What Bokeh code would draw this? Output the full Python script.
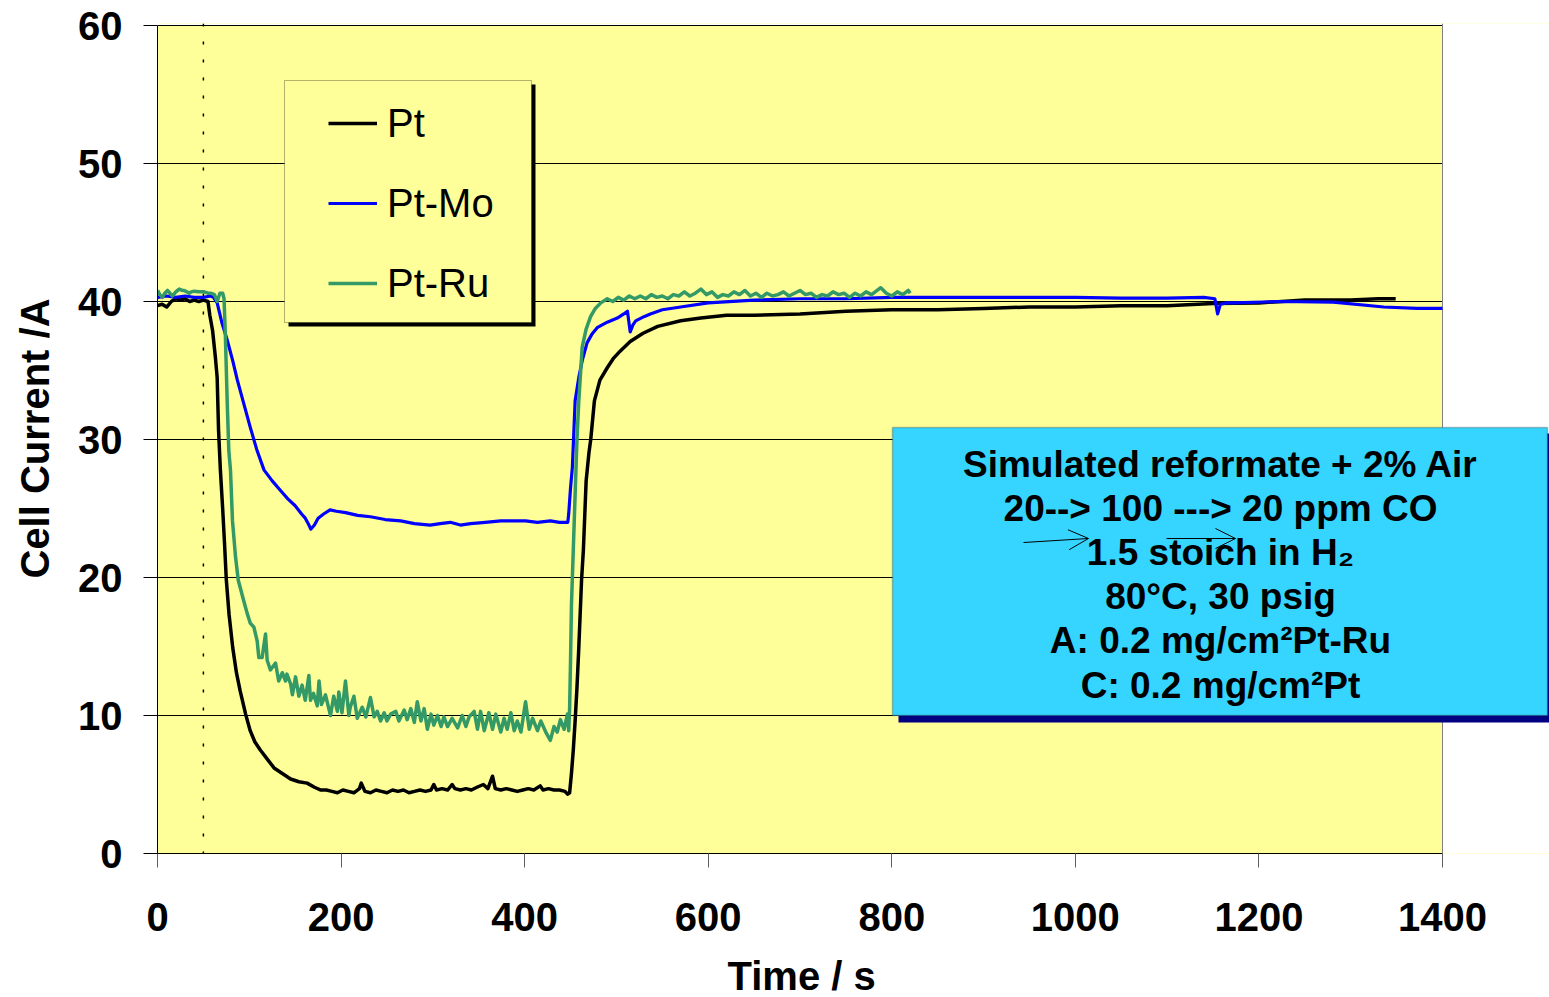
from bokeh.plotting import figure
from bokeh.models import (Range1d, SingleIntervalTicker, Legend, LegendItem, BoxAnnotation,
                          Label, Span, Arrow, OpenHead, Title)
from bokeh.embed import file_html
from bokeh.resources import INLINE

# ---------------- data ----------------
pt_t = [0, 5, 10, 15, 20, 25, 30, 35, 40, 45, 50, 55, 57, 60, 63, 65, 66.5, 68.5, 71, 73, 75,
        78, 82, 86, 90, 96, 101, 106, 112, 120, 127, 136, 145, 154, 163, 171, 178,
        184, 190, 196, 202, 208, 214, 220, 222, 226, 232, 238, 244, 250, 256, 262, 268, 274,
        280, 286, 292, 298, 301, 304, 310, 316, 321, 324, 330, 336, 342, 348, 355, 360, 365,
        368, 374, 380, 386, 392, 398, 404, 410, 417, 420, 426, 432, 438, 444, 447,
        449, 451, 453, 455, 457, 459, 462, 464, 467, 470, 472, 476, 482, 490, 497, 504, 515,
        529, 545, 570, 592, 620, 650, 700, 750, 800, 850, 900, 950, 1000, 1050, 1100, 1150,
        1200, 1250, 1300, 1330, 1349]
pt_i = [39.7, 39.8, 39.6, 40.0, 40.2, 40.1, 40.2, 40.0, 40.1, 40.0, 40.1, 40.0, 39.0, 37.9, 36.0,
        34.5, 30.7, 27.8, 25.0, 22.5, 19.8, 17.3, 14.9, 13.1, 11.8, 10.1, 8.9, 8.1, 7.5, 6.8,
        6.2, 5.8, 5.4, 5.2, 5.1, 4.8, 4.6,
        4.6, 4.5, 4.4, 4.6, 4.5, 4.4, 4.7, 5.1, 4.5, 4.4, 4.6, 4.5, 4.4, 4.6, 4.5, 4.6, 4.4,
        4.5, 4.6, 4.5, 4.6, 5.0, 4.6, 4.7, 4.6, 5.0, 4.7, 4.6, 4.7, 4.6, 4.8, 5.0, 4.7, 5.6,
        4.7, 4.6, 4.7, 4.6, 4.5, 4.6, 4.7, 4.6, 4.9, 4.6, 4.7, 4.6, 4.6, 4.5, 4.3,
        4.4, 5.8, 7.5, 9.6, 12.0, 14.9, 19.8, 22.0, 27.0, 29.0, 30.0, 32.8, 34.3, 35.2, 35.9,
        36.4, 37.1, 37.7, 38.2, 38.6, 38.8, 39.0, 39.0, 39.1, 39.3, 39.4, 39.4, 39.5, 39.6,
        39.6, 39.7, 39.7, 39.85, 39.9, 40.1, 40.1, 40.2, 40.2]

ptmo_t = [0, 10, 20, 30, 40, 50, 58, 61, 65, 70, 76, 82, 87, 94, 101, 108, 116, 125, 134, 142,
          150, 157, 161, 165, 167, 171, 175, 181, 188, 195, 205, 218, 232, 248, 265, 280, 297,
          308, 319, 330, 341, 357, 374, 387, 401, 414, 428, 438, 447,
          448, 450, 452, 453.5, 455, 459, 463, 468, 473, 479, 490, 501, 508, 512, 515, 518, 521,
          530, 537, 550, 570, 600, 650, 700, 750, 800, 850, 900, 950, 1000, 1050, 1100, 1140,
          1152, 1155, 1158, 1165, 1173, 1223, 1281, 1336, 1372, 1400]
ptmo_i = [40.3, 40.4, 40.3, 40.4, 40.3, 40.3, 40.4, 40.3, 39.9, 38.5, 37.2, 35.7, 34.3, 32.6,
          30.9, 29.3, 27.8, 27.0, 26.3, 25.7, 25.2, 24.6, 24.3, 23.8, 23.5, 23.8, 24.3, 24.6,
          24.9, 24.8, 24.7, 24.5, 24.4, 24.2, 24.1, 23.9, 23.8, 23.9, 24.0, 23.8, 23.9, 24.0,
          24.1, 24.1, 24.1, 24.0, 24.1, 24.0, 24.0,
          24.6, 26.5, 28.0, 30.4, 32.8, 34.5, 35.8, 37.0, 37.6, 38.1, 38.5, 38.8, 39.1, 39.3,
          37.8, 38.3, 38.6, 38.9, 39.1, 39.4, 39.6, 39.9, 40.1, 40.2, 40.2, 40.3, 40.3, 40.3,
          40.3, 40.3, 40.25, 40.25, 40.3, 40.2, 39.1, 39.8, 39.9, 39.9, 40.0, 39.95, 39.6,
          39.5, 39.5]

ptru_t = [0, 2.5, 5.4, 8, 10.9, 13.5, 16.3, 20, 23.6, 27, 29, 32, 34.5, 37, 40, 45, 50.8, 55,
          58, 62, 65, 68, 71, 72.5, 74, 76, 77.7, 79.5, 81.7, 85, 88, 94, 97.7, 101, 105,
          108.6, 110.4, 114, 117.7, 119.5, 123, 128.6, 132, 136, 139.5, 141, 145, 147, 150.4,
          154, 157.5, 161, 164.9, 166.7, 170, 174, 176, 178.6, 183, 188.5, 192, 196, 197.5, 201,
          204.8, 208.5, 210, 214, 217.6, 223, 227, 232, 236, 239.4, 243, 247, 250, 254, 259.6,
          263, 268.8, 272, 276, 279.8, 283, 287, 290.5, 294, 298, 301, 305, 309, 312, 316, 321,
          327, 332, 336, 339.5, 345, 348.6, 352, 356, 361, 365, 368.6, 374, 377.6, 381, 385,
          388.6, 392, 396, 401, 405, 408.6, 414, 417.6, 423, 428, 432, 435.5, 439, 443, 446.6,
          448, 449, 450, 451, 452, 453, 455, 457, 459, 462.7, 467, 471.8, 477, 483,
          490, 496, 502, 508, 514, 520, 526, 532, 538, 544, 550, 556, 562, 568, 574, 580, 586,
          592, 598, 604, 610, 616, 622, 628, 634, 640, 646, 652, 658, 664, 670, 676, 682, 688,
          694, 700, 706, 712, 718, 724, 730, 736, 742, 748, 754, 760, 766, 772, 778, 784, 788,
          794, 800, 806, 812, 818, 820]
ptru_i = [40.8, 40.5, 40.3, 40.6, 40.8, 40.6, 40.4, 40.7, 40.9, 40.8, 40.8, 40.7, 40.6, 40.7,
          40.75, 40.7, 40.7, 40.6, 40.6, 40.5, 40.0, 40.6, 40.6, 40.2, 37.4, 32.6, 29.2, 27.8,
          24.1, 21.5, 19.8, 18.3, 17.4, 16.7, 16.4, 15.4, 14.2, 14.2, 15.9, 14.0, 13.3, 13.8,
          12.5, 13.1, 12.5, 13.0, 12.3, 11.5, 12.8, 11.4, 12.2, 11.1, 12.9, 11.1, 11.6, 10.7,
          12.5, 10.8, 11.5, 10.0, 11.4, 10.3, 11.7, 10.2, 12.5, 10.0, 10.6, 11.4, 9.8, 10.6,
          9.9, 11.3, 9.9, 10.3, 9.6, 10.2, 9.6, 10.1, 10.3, 9.6, 10.4, 9.7, 10.5, 9.5, 11.0,
          9.6, 10.5, 9.0, 10.1, 9.3, 10.0, 9.2, 9.9, 9.2, 9.8, 9.1, 10.0, 9.2, 9.9, 10.3, 9.0,
          10.3, 8.9, 10.2, 9.0, 10.1, 8.8, 9.8, 9.0, 10.2, 8.9, 9.6, 8.8, 11.0, 9.0, 9.8, 8.9,
          9.6, 8.8, 8.2, 9.2, 8.8, 9.7, 9.0, 10.1,
          8.9, 10.5, 14.0, 18.0, 20.0, 22.0, 26.0, 30.0, 32.8, 36.7, 38.0, 38.9, 39.5, 39.9,
          40.2, 40.0, 40.3, 40.1, 40.4, 40.2, 40.4, 40.2, 40.5, 40.3, 40.4, 40.2, 40.5, 40.4,
          40.7, 40.4, 40.6, 40.9, 40.5, 40.7, 40.3, 40.5, 40.4, 40.7, 40.5, 40.8, 40.4, 40.6,
          40.3, 40.6, 40.4, 40.5, 40.7, 40.4, 40.6, 40.8, 40.5, 40.6, 40.3, 40.5, 40.4, 40.7,
          40.5, 40.6, 40.3, 40.6, 40.4, 40.7, 40.5, 40.8, 41.0, 40.6, 40.4, 40.7, 40.5, 40.8,
          40.6]

series_names = ["Pt", "Pt-Mo", "Pt-Ru"]
series_colors = ["#000000", "#0000FF", "#339966"]

co_switch_time = 50
x_max, y_max = 1400, 60

note_lines = ["Simulated reformate + 2% Air",
              "20--> 100 ---> 20 ppm CO",
              "1.5 stoich in H\u2082",
              "80\u00b0C, 30 psig",
              "A: 0.2 mg/cm\u00b2Pt-Ru",
              "C: 0.2 mg/cm\u00b2Pt"]

x_title = "Time / s"
y_title = "Cell Current /A"

# ---------------- layout constants ----------------
FONT = "Liberation Sans"
W, H = 1549, 997
FRAME_L, FRAME_R, FRAME_T, FRAME_B = 157, 1442, 25, 853   # plot-area pixels
TOP_PAD = 2


def dx(px):
    return (px - FRAME_L) * x_max / (FRAME_R - FRAME_L)


def dy(py):
    return (FRAME_B - py) * y_max / (FRAME_B - FRAME_T)


p = figure(width=W, height=H, x_range=Range1d(0, dx(W)),
           y_range=Range1d(0, dy(FRAME_T - TOP_PAD)),
           output_backend="svg", toolbar_location=None,
           min_border_left=FRAME_L, min_border_right=0, min_border_top=FRAME_T - TOP_PAD,
           min_border_bottom=H - FRAME_B,
           background_fill_color="#FFFF99", border_fill_color="white",
           outline_line_color=None)

p.xgrid.visible = False
p.ygrid.grid_line_color = "black"
p.ygrid.grid_line_width = 1
p.yaxis.ticker = SingleIntervalTicker(interval=10)
p.xaxis.ticker = SingleIntervalTicker(interval=200)
p.ygrid.ticker = SingleIntervalTicker(interval=10)
p.xaxis.bounds = (0, x_max)
p.yaxis.bounds = (0, y_max)

for ax in (p.xaxis[0], p.yaxis[0]):
    ax.axis_line_color = "black"
    ax.axis_line_width = 1
    ax.major_tick_in = 0
    ax.major_tick_out = 14
    ax.minor_tick_line_color = None
    ax.major_label_text_font = FONT
    ax.major_label_text_font_size = "40px"
    ax.major_label_text_font_style = "bold"
    ax.major_label_text_color = "black"
    ax.axis_label_text_font = FONT
    ax.axis_label_text_font_size = "40px"
    ax.axis_label_text_font_style = "bold"
    ax.axis_label_text_color = "black"

p.xaxis.major_tick_line_color = "#606060"
p.yaxis.major_tick_line_color = "black"
p.yaxis.axis_label = y_title
p.xaxis.major_label_standoff = 35
p.yaxis.major_label_standoff = 21
p.yaxis.axis_label_standoff = 18

# x-axis: a 1px non-breaking-space axis label only reserves the gap above the title
p.xaxis.axis_label = "\u00a0"
p.xaxis.axis_label_text_font_size = "1px"
p.xaxis.axis_label_standoff = 14

# x-axis title, centred under the plot area (0..1400) rather than the whole frame
p.add_layout(Title(text=x_title, align="left", offset=570, standoff=0,
                   text_font=FONT, text_font_size="40px", text_font_style="bold",
                   text_color="black"), "below")

# white cover right of the plot area, then the plot-area right border
p.add_layout(BoxAnnotation(left=x_max, fill_color="white", fill_alpha=1, line_color=None,
                           level="underlay"))
p.add_layout(Span(location=x_max, dimension="height", line_color="#808080", line_width=1,
                  level="underlay"))
p.add_layout(BoxAnnotation(bottom=y_max, fill_color="white", fill_alpha=1, line_color=None,
                           level="image"))

# CO switching reference line
p.add_layout(Span(location=co_switch_time, dimension="height", line_color="black",
                  line_width=1.5, line_dash="3 15", level="underlay"))

r_pt = p.line(pt_t, pt_i, line_color=series_colors[0], line_width=3.5, line_join="round")
r_mo = p.line(ptmo_t, ptmo_i, line_color=series_colors[1], line_width=3.2, line_join="round")
r_ru = p.line(ptru_t, ptru_i, line_color=series_colors[2], line_width=3.5, line_join="round")

# legend frame with shadow
p.add_layout(BoxAnnotation(left=dx(288), right=dx(535), top=dy(84), bottom=dy(326),
                           fill_color="black", fill_alpha=1, line_color=None))
p.add_layout(BoxAnnotation(left=dx(284), right=dx(531), top=dy(80), bottom=dy(322),
                           fill_color="#FFFF99", fill_alpha=1, line_color="black", line_width=1))

legend = Legend(items=[LegendItem(label=n, renderers=[r]) for n, r in
                       zip(series_names, [r_pt, r_mo, r_ru])],
                location=(171, 547), padding=0, spacing=34, margin=0,
                glyph_width=49, glyph_height=46, label_height=46, label_standoff=10,
                label_text_font=FONT, label_text_font_size="40px", label_text_color="black",
                border_line_alpha=0, background_fill_alpha=0)
p.add_layout(legend)

# annotation box with shadow
p.add_layout(BoxAnnotation(left=dx(898), right=dx(1560), top=dy(433), bottom=dy(722),
                           fill_color="#000080", fill_alpha=1, line_color=None))
p.add_layout(BoxAnnotation(left=dx(892), right=dx(1547), top=dy(427), bottom=dy(715),
                           fill_color="#35D5FF", fill_alpha=1, line_color="#333333",
                           line_width=1.5))

baselines = [464, 508, 552, 596, 640, 685]
for txt, b in zip(note_lines, baselines):
    p.add_layout(Label(x=dx(1220), y=dy(b), text=txt, text_align="center",
                       text_baseline="alphabetic", text_font=FONT, text_font_style="bold",
                       text_font_size="37px", text_color="black"))

# stray arrows in the original note
for (x0, y0, x1, y1) in [(1023, 542, 1088, 538), (1166, 538, 1235, 538)]:
    p.add_layout(Arrow(end=OpenHead(size=20, line_width=1, line_color="black"),
                       x_start=dx(x0), y_start=dy(y0), x_end=dx(x1), y_end=dy(y1),
                       line_width=1, line_color="black"))

open("out.html", "w").write(file_html(p, INLINE))
